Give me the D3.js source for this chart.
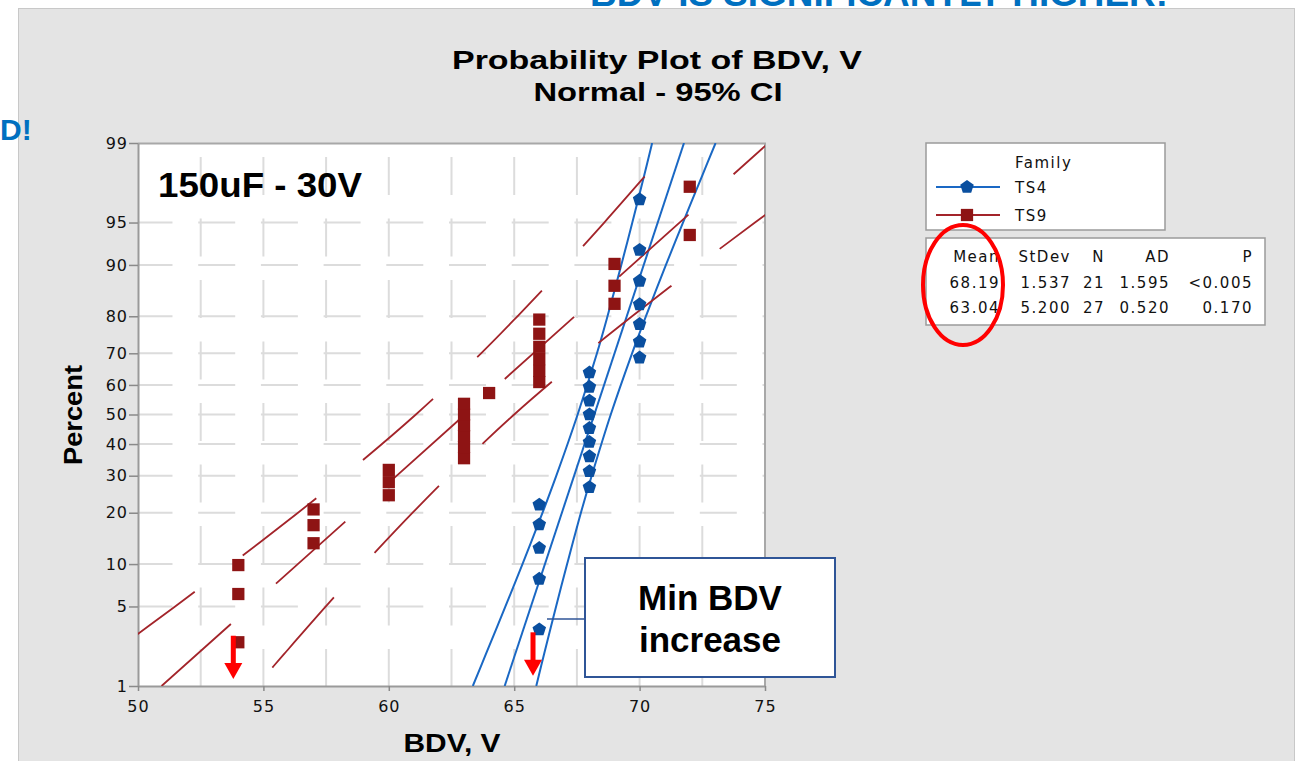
<!DOCTYPE html>
<html>
<head>
<meta charset="utf-8">
<script src="https://d3js.org/d3.v7.min.js"></script>
<style>
  body { margin: 0; background: #fff; }
  svg { display: block; }
</style>
</head>
<body>
<div id="chart"></div>
<script>
// ---- data ----
const xTicks = [50, 55, 60, 65, 70, 75]
const xGrid = [52.5, 55, 57.5, 60, 62.5, 65, 67.5, 70, 72.5]
const pctTicks = [1, 5, 10, 20, 30, 40, 50, 60, 70, 80, 90, 95, 99]
const pctGrid = [5, 10, 20, 30, 40, 50, 60, 70, 80, 90, 95]

// TS4 points (BDV, percent)
const ts4Bdv = [66, 66, 66, 66, 66, 68, 68, 68, 68, 68, 68, 68, 68, 68, 70, 70, 70, 70, 70, 70, 70]
const ts4Pct = [3.27, 7.94, 12.62, 17.29, 21.96, 26.64, 31.31, 35.98, 40.65, 45.33, 50.0, 54.67,
  59.35, 64.02, 68.69, 73.36, 78.04, 82.71, 87.38, 92.06, 96.73]

// TS9 points (BDV, percent)
const ts9Bdv = [54, 54, 54, 57, 57, 57, 60, 60, 60, 63, 63, 63, 63, 63, 63, 64,
  66, 66, 66, 66, 66, 66, 69, 69, 69, 72, 72]
const ts9Pct = [2.55, 6.2, 9.85, 13.5, 17.15, 20.8, 24.45, 28.1, 31.75, 35.4, 39.05, 42.7,
  46.35, 50.0, 53.65, 57.3, 60.95, 64.6, 68.25, 71.9, 75.55, 79.2, 82.85, 86.5, 90.15, 93.8, 97.45]

// fitted lines and 95% CI bands (BDV read at these percents)
const bandPct = [1, 2, 5, 10, 20, 30, 50, 70, 80, 90, 95, 98, 99]
const fitPct = [1, 99]
const ts4Fit = [64.62, 71.77]
const ts4Lo = [63.35, 63.87, 64.65, 65.33, 66.13, 66.68, 67.53, 68.30, 68.72, 69.27, 69.71, 70.19, 70.50]
const ts4Hi = [65.88, 66.19, 66.67, 67.11, 67.66, 68.09, 68.85, 69.70, 70.25, 71.05, 71.73, 72.51, 73.03]
const ts9Fit = [50.94, 75.14]
const ts9Lo = [47.17, 48.90, 51.48, 53.73, 56.38, 58.22, 61.08, 63.68, 65.13, 67.06, 68.59, 70.26, 71.36]
const ts9Hi = [54.72, 55.82, 57.49, 59.02, 60.95, 62.41, 65.00, 67.86, 69.70, 72.35, 74.60, 77.18, 78.91]

const families = ['TS4', 'TS9']
const tableHeader = ['Mean', 'StDev', 'N', 'AD', 'P']
const ts4Stats = ['68.19', '1.537', '21', '1.595', '<0.005']
const ts9Stats = ['63.04', '5.200', '27', '0.520', '0.170']

// arrows under the minimum values (BDV, top %, tip %)
const arrows = [[53.8, 2.9, 1.17], [65.75, 3.1, 1.26]]

// ---- layout ----
const W = 1299, H = 761
const margin = { left: 138, top: 143 }
const width = 627, height = 543
const blueLine = '#1a68c4', blueMark = '#0a4f9f'
const redLine = '#a3242a', redMark = '#8e1414'
const tickFont = '"DejaVu Sans", sans-serif'

// inverse normal cdf (Acklam)
function probit(p) {
  const a = [-3.969683028665376e+01, 2.209460984245205e+02, -2.759285104469687e+02, 1.383577518672690e+02, -3.066479806614716e+01, 2.506628277459239e+00]
  const b = [-5.447609879822406e+01, 1.615858368580409e+02, -1.556989798598866e+02, 6.680131188771972e+01, -1.328068155288572e+01]
  const c = [-7.784894002430293e-03, -3.223964580411365e-01, -2.400758277161838e+00, -2.549732539343734e+00, 4.374664141464968e+00, 2.938163982698783e+00]
  const d = [7.784695709041462e-03, 3.224671290700398e-01, 2.445134137142996e+00, 3.754408661907416e+00]
  const pl = 0.02425
  let q, r
  if (p < pl) {
    q = Math.sqrt(-2 * Math.log(p))
    return (((((c[0]*q+c[1])*q+c[2])*q+c[3])*q+c[4])*q+c[5]) / ((((d[0]*q+d[1])*q+d[2])*q+d[3])*q+1)
  }
  if (p > 1 - pl) {
    q = Math.sqrt(-2 * Math.log(1 - p))
    return -(((((c[0]*q+c[1])*q+c[2])*q+c[3])*q+c[4])*q+c[5]) / ((((d[0]*q+d[1])*q+d[2])*q+d[3])*q+1)
  }
  q = p - 0.5; r = q * q
  return (((((a[0]*r+a[1])*r+a[2])*r+a[3])*r+a[4])*r+a[5])*q / (((((b[0]*r+b[1])*r+b[2])*r+b[3])*r+b[4])*r+1)
}

const svg = d3.select('#chart').append('svg').attr('width', W).attr('height', H)

// scales
const x = d3.scaleLinear().domain([50, 75]).range([0, width])
const zSc = d3.scaleLinear().domain([probit(0.01), probit(0.99)]).range([height, 0])
const y = p => zSc(probit(p / 100))

// background panel + stray slide text
svg.append('text')
  .attr('x', 590).attr('y', 6)
  .attr('textLength', 578).attr('lengthAdjust', 'spacingAndGlyphs')
  .style('font', 'bold 36px "Liberation Sans", Arial, sans-serif')
  .attr('fill', '#0070c0')
  .text('BDV IS SIGNIFICANTLY HIGHER!')

svg.append('rect')
  .attr('x', 18.5).attr('y', 8.5).attr('width', 1276).attr('height', H)
  .attr('fill', '#e4e4e4').attr('stroke', '#c8c8c8')

svg.append('text')
  .attr('x', 0).attr('y', 140)
  .style('font', 'bold 30px "Liberation Sans", Arial, sans-serif')
  .attr('fill', '#0070c0')
  .text('D!')

// titles
svg.append('text')
  .attr('x', 657).attr('y', 69).attr('text-anchor', 'middle')
  .attr('textLength', 410).attr('lengthAdjust', 'spacingAndGlyphs')
  .style('font', 'bold 25px "Liberation Sans", Arial, sans-serif')
  .text('Probability Plot of BDV, V')
svg.append('text')
  .attr('x', 658).attr('y', 101).attr('text-anchor', 'middle')
  .attr('textLength', 249).attr('lengthAdjust', 'spacingAndGlyphs')
  .style('font', 'bold 25px "Liberation Sans", Arial, sans-serif')
  .text('Normal - 95% CI')

svg.append('text')
  .attr('transform', 'translate(82,415) rotate(-90)')
  .attr('text-anchor', 'middle')
  .attr('textLength', 100).attr('lengthAdjust', 'spacingAndGlyphs')
  .style('font', 'bold 26px "Liberation Sans", Arial, sans-serif')
  .text('Percent')
svg.append('text')
  .attr('x', 452).attr('y', 752).attr('text-anchor', 'middle')
  .attr('textLength', 97).attr('lengthAdjust', 'spacingAndGlyphs')
  .style('font', 'bold 25px "Liberation Sans", Arial, sans-serif')
  .text('BDV, V')

// plot area
const g = svg.append('g').attr('transform', `translate(${margin.left},${margin.top})`)
g.append('rect').attr('width', width).attr('height', height).attr('fill', '#fff')

svg.append('defs').append('clipPath').attr('id', 'plotClip')
  .append('rect').attr('width', width).attr('height', height)

// grid (broken dashes, like the original)
const step = x(52.5) - x(50)
g.append('g').selectAll('line').data(pctGrid).join('line')
  .attr('x1', 0).attr('x2', width)
  .attr('y1', d => y(d)).attr('y2', d => y(d))
  .attr('stroke', '#dcdcdc').attr('stroke-width', 2)
  .attr('stroke-dasharray', `${step * 0.59} ${step * 0.41}`)
  .attr('stroke-dashoffset', 2.5)
g.append('g').selectAll('line').data(xGrid).join('line')
  .attr('x1', d => x(d)).attr('x2', d => x(d))
  .attr('y1', 0).attr('y2', height)
  .attr('stroke', '#dcdcdc').attr('stroke-width', 2)
  .attr('stroke-dasharray', '38 23.5')
  .attr('stroke-dashoffset', 47.5)

// frame (top/right)
g.append('path')
  .attr('d', `M0,0.5H${width}V${height}`)
  .attr('fill', 'none').attr('stroke', '#a8a8a8').attr('stroke-width', 2)

// axes
const yAxis = d3.axisLeft(zSc)
  .tickValues(pctTicks.map(p => probit(p / 100)))
  .tickFormat((d, i) => pctTicks[i])
  .tickSize(9).tickSizeOuter(0).tickPadding(1)
const xAxis = d3.axisBottom(x).tickValues(xTicks).tickSize(5).tickSizeOuter(0).tickPadding(10)

function styleAxis(sel) {
  sel.select('.domain').attr('stroke', '#9a9a9a').attr('stroke-width', 2)
  sel.selectAll('.tick line').attr('stroke', '#8a8a8a').attr('stroke-width', 1.5)
  sel.selectAll('.tick text').attr('fill', '#111')
    .style('font-family', tickFont).style('font-size', '16px').style('letter-spacing', '1px')
}
g.append('g').call(yAxis).call(styleAxis)
g.append('g').attr('transform', `translate(0,${height})`).call(xAxis).call(styleAxis)

// lines
const band = d3.line().x(d => x(d[0])).y(d => y(d[1])).curve(d3.curveCatmullRom)
const lines = g.append('g').attr('clip-path', 'url(#plotClip)')

function drawLine(vals, pcts, color, w) {
  return lines.append('path')
    .datum(vals.map((v, i) => [v, pcts[i]]))
    .attr('d', band)
    .attr('fill', 'none').attr('stroke', color).attr('stroke-width', w)
}

// TS4 lines are solid
drawLine(ts4Lo, bandPct, blueLine, 2)
drawLine(ts4Fit, fitPct, blueLine, 2)
drawLine(ts4Hi, bandPct, blueLine, 2)

// TS9 lines show long dashes; phase set where each enters the plot
const period = 153.5
function dashFrom(path, phase) {
  const node = path.node(), total = node.getTotalLength()
  let s = 0
  for (; s < total; s += 0.5) {
    const pt = node.getPointAtLength(s)
    if (pt.x >= 0 && pt.y <= height) break
  }
  const off = (((phase - s) % period) + period) % period
  path.attr('stroke-dasharray', '93 60.5').attr('stroke-dashoffset', off)
}
dashFrom(drawLine(ts9Lo, bandPct, redLine, 1.8), 23)
dashFrom(drawLine(ts9Fit, fitPct, redLine, 1.8), 0)
dashFrom(drawLine(ts9Hi, bandPct, redLine, 1.8), 129)

// markers
const pentagon = {
  draw(ctx, size) {
    const r = Math.sqrt(size) * 0.6
    for (let k = 0; k < 5; k++) {
      const a = -Math.PI / 2 + k * 2 * Math.PI / 5
      k ? ctx.lineTo(r * Math.cos(a), r * Math.sin(a)) : ctx.moveTo(r * Math.cos(a), r * Math.sin(a))
    }
    ctx.closePath()
  }
}
const sq = d3.symbol().type(d3.symbolSquare).size(150)
const pent = d3.symbol().type(pentagon).size(140)

g.append('g').selectAll('path').data(ts9Bdv).join('path')
  .attr('transform', (d, i) => `translate(${x(d)},${y(ts9Pct[i])})`)
  .attr('d', sq).attr('fill', redMark)
g.append('g').selectAll('path').data(ts4Bdv).join('path')
  .attr('transform', (d, i) => `translate(${x(d)},${y(ts4Pct[i])})`)
  .attr('d', pent).attr('fill', blueMark)

// legend
const leg = svg.append('g')
leg.append('rect').attr('x', 926).attr('y', 143).attr('width', 239).attr('height', 87)
  .attr('fill', '#fff').attr('stroke', '#9a9a9a').attr('stroke-width', 1.5)
leg.append('text').attr('x', 1015).attr('y', 168).text('Family')
families.forEach((f, i) => {
  const yy = 187 + i * 28
  const col = i ? redLine : blueLine
  leg.append('line').attr('x1', 936).attr('x2', 1000).attr('y1', yy).attr('y2', yy)
    .attr('stroke', col).attr('stroke-width', 2)
  leg.append('path').attr('transform', `translate(967,${yy})`)
    .attr('d', i ? sq : pent).attr('fill', i ? redMark : blueMark)
  leg.append('text').attr('x', 1015).attr('y', yy + 6).text(f)
})
leg.selectAll('text').style('font-family', tickFont).style('font-size', '15px')
  .style('letter-spacing', '1.5px').attr('fill', '#111')

// stats table
const tbl = svg.append('g')
tbl.append('rect').attr('x', 926).attr('y', 238).attr('width', 339).attr('height', 87)
  .attr('fill', '#fff').attr('stroke', '#9a9a9a').attr('stroke-width', 1.5)
const colRight = [1000, 1071, 1105, 1170, 1253]
;[tableHeader, ts4Stats, ts9Stats].forEach((row, r) => {
  row.forEach((t, c) => {
    tbl.append('text').attr('x', colRight[c]).attr('y', 262 + r * 25.5)
      .attr('text-anchor', 'end').text(t)
  })
})
tbl.selectAll('text').style('font-family', tickFont).style('font-size', '15px')
  .style('letter-spacing', '1.5px').attr('fill', '#111')

// red ellipse around the means
svg.append('ellipse').attr('cx', 963).attr('cy', 285).attr('rx', 40).attr('ry', 60)
  .attr('fill', 'none').attr('stroke', '#ff0000').attr('stroke-width', 4)

// annotations
svg.append('text').attr('x', 158).attr('y', 197)
  .attr('textLength', 204).attr('lengthAdjust', 'spacingAndGlyphs')
  .style('font', 'bold 35px "Liberation Sans", Arial, sans-serif')
  .text('150uF - 30V')

svg.append('line').attr('x1', 547).attr('x2', 585).attr('y1', 619).attr('y2', 619)
  .attr('stroke', '#2f5597').attr('stroke-width', 1.5)
svg.append('rect').attr('x', 585).attr('y', 558).attr('width', 250).attr('height', 119)
  .attr('fill', '#fff').attr('stroke', '#2f5597').attr('stroke-width', 2)
svg.append('text').attr('x', 710).attr('y', 610).attr('text-anchor', 'middle')
  .style('font', 'bold 35px "Liberation Sans", Arial, sans-serif').text('Min BDV')
svg.append('text').attr('x', 710).attr('y', 652).attr('text-anchor', 'middle')
  .style('font', 'bold 35px "Liberation Sans", Arial, sans-serif').text('increase')

// red arrows
arrows.forEach(([v, top, tip]) => {
  const ax = margin.left + x(v), y0 = margin.top + y(top), y1 = margin.top + y(tip)
  svg.append('rect').attr('x', ax - 2.5).attr('y', y0).attr('width', 5).attr('height', y1 - y0 - 15)
    .attr('fill', '#ff0000')
  svg.append('path')
    .attr('d', `M${ax - 9},${y1 - 16}L${ax + 9},${y1 - 16}L${ax},${y1}Z`)
    .attr('fill', '#ff0000')
})
</script>
</body>
</html>
